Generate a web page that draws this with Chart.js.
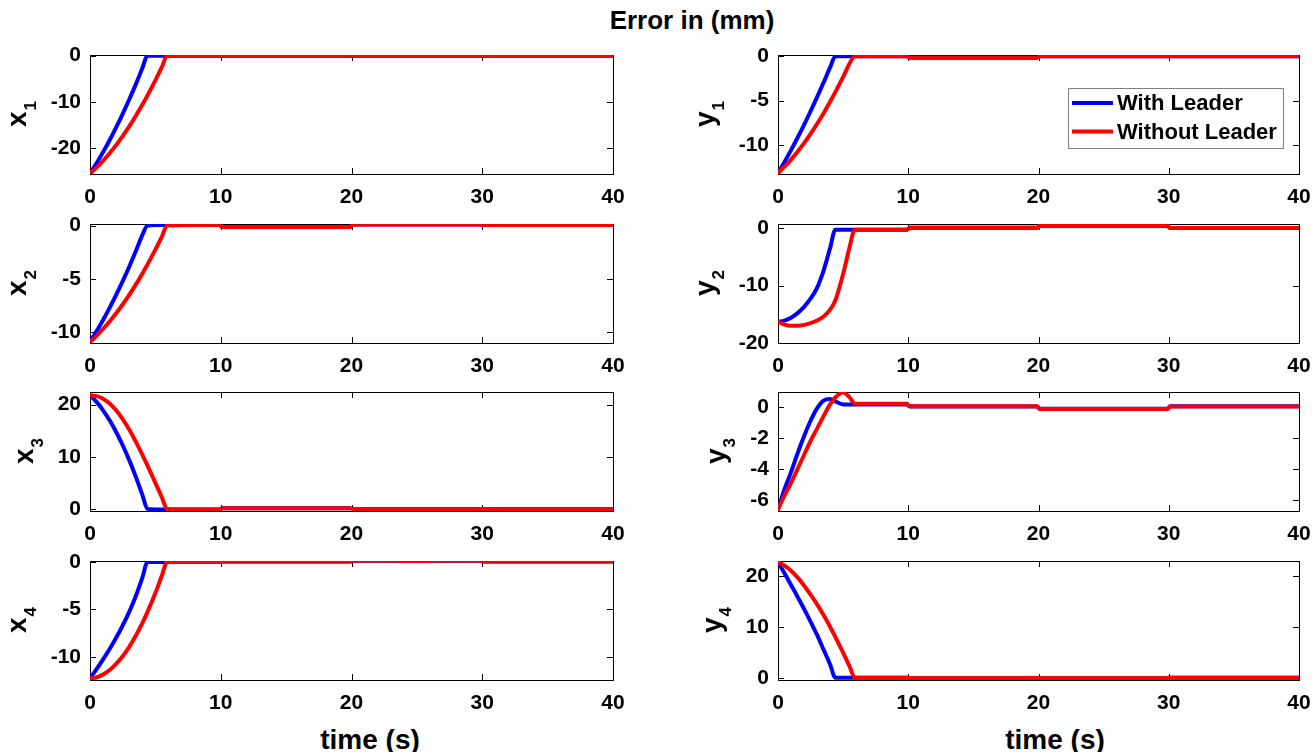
<!DOCTYPE html>
<html>
<head>
<meta charset="utf-8">
<title>Error in (mm)</title>
<script src="https://cdn.jsdelivr.net/npm/chart.js@4.4.1/dist/chart.umd.min.js"></script>
<style>
  html, body { margin: 0; padding: 0; background: #fff; }
  body { width: 1313px; height: 752px; position: relative; overflow: hidden;
         font-family: "Liberation Sans", Arial, sans-serif; }
  .panel { position: absolute; }
  .caption { position: absolute; font-weight: bold; color: #000; white-space: nowrap;
             text-align: center; line-height: 30px; }
</style>
</head>
<body>
<div class="caption" id="title" style="left:0; width:1384px; top:5px; font-size:26px;">Error in (mm)</div>
<div class="caption" style="left:270px; width:200px; top:725px; font-size:28px;">time (s)</div>
<div class="caption" style="left:955px; width:200px; top:725px; font-size:28px;">time (s)</div>

<script>
// sample times (s) shared by every series
const time = [0, 0.5, 1, 1.5, 2, 2.5, 3, 3.5, 4, 4.4, 5, 5.5, 5.9, 8, 9.9, 10.1, 19.9, 20.1, 29.9, 30.1, 40];
const timeTicks = [0, 10, 20, 30, 40];

// x errors (mm)
const x1With    = [-25.6, -23.36, -20.95, -18.36, -15.59, -12.64, -9.52, -6.23, -2.75, 0, 0, 0, 0, 0, 0, -0.05, -0.05, 0, 0, 0, 0];
const x1Without = [-25.6, -24.3, -22.83, -21.2, -19.42, -17.48, -15.37, -13.1, -10.68, -8.63, -5.35, -2.45, 0, 0, 0, -0.05, -0.05, 0, 0, 0, 0];
const x2With    = [-10.9, -9.91, -8.85, -7.71, -6.5, -5.21, -3.85, -2.41, -0.9, 0, 0.05, 0.05, 0.05, 0.05, 0.05, -0.12, -0.12, 0.1, 0.1, 0.05, 0.05];
const x2Without = [-10.9, -10.33, -9.69, -8.99, -8.22, -7.39, -6.49, -5.53, -4.5, -3.63, -2.25, -1.03, 0, 0.05, 0.05, -0.12, -0.12, 0.1, 0.1, 0.05, 0.05];
const x3With    = [21.8, 20.5, 18.89, 16.97, 14.74, 12.2, 9.35, 6.19, 2.72, 0, -0.1, -0.1, -0.1, -0.1, -0.1, 0.15, 0.15, 0, 0, 0, 0];
const x3Without = [21.8, 21.6, 21.1, 20.2, 18.9, 17.2, 15.2, 12.9, 10.4, 8.3, 5.0, 2.2, 0, -0.1, -0.1, 0.15, 0.15, 0, 0, 0, 0];
const x4With    = [-12.3, -11.31, -10.27, -9.18, -7.99, -6.7, -5.26, -3.62, -1.68, 0, 0, 0, 0, 0, 0, 0.05, 0.05, 0.15, 0.15, 0.05, 0.05];
const x4Without = [-12.3, -12.17, -11.87, -11.4, -10.75, -9.94, -8.95, -7.79, -6.46, -5.27, -3.28, -1.43, 0, 0, 0, 0.05, 0.05, 0.15, 0.15, 0.05, 0.05];

// y errors (mm)
const y1With    = [-13.2, -11.93, -10.6, -9.2, -7.74, -6.21, -4.62, -2.96, -1.25, 0, 0, 0, 0, 0, 0, -0.15, -0.15, 0, 0, 0, 0];
const y1Without = [-13.2, -12.47, -11.67, -10.78, -9.81, -8.76, -7.64, -6.43, -5.14, -4.05, -2.33, -0.8, 0, 0, 0, -0.15, -0.15, 0, 0, 0, 0];
const y2With    = [-16.3, -16.1, -15.6, -14.8, -13.7, -12.3, -10.4, -7.4, -3.5, -0.3, -0.3, -0.3, -0.3, -0.3, -0.3, 0.05, 0.05, 0.35, 0.35, 0, 0];
const y2Without = [-16.3, -16.8, -17.0, -17.0, -16.85, -16.55, -16.1, -15.4, -14.2, -12.6, -8.0, -3.3, -0.3, -0.3, -0.3, 0.05, 0.05, 0.4, 0.4, 0, 0];
const y3With    = [-6.6, -5.3, -4.2, -3.0, -1.9, -0.9, -0.1, 0.4, 0.5, 0.35, 0.15, 0.15, 0.15, 0.15, 0.15, 0.02, 0.02, -0.12, -0.12, 0.03, 0.03];
const y3Without = [-6.6, -5.7, -4.9, -4.0, -3.1, -2.2, -1.4, -0.6, 0.15, 0.6, 0.93, 0.6, 0.2, 0.2, 0.2, 0.03, 0.03, -0.15, -0.15, 0.02, 0.02];
const y4With    = [22.7, 20.5, 18.2, 15.9, 13.5, 11.0, 8.4, 5.5, 2.6, 0, 0, 0, 0, 0, 0, -0.05, -0.05, -0.05, -0.05, 0, 0];
const y4Without = [22.7, 22.0, 21.0, 19.7, 18.1, 16.3, 14.4, 12.3, 10.0, 8.0, 4.9, 2.2, 0, 0, 0, -0.05, -0.05, -0.05, -0.05, 0, 0];

// y tick values for each subplot
const x1Ticks = [-20, -10, 0];
const x2Ticks = [-10, -5, 0];
const x3Ticks = [0, 10, 20];
const x4Ticks = [-10, -5, 0];
const y1Ticks = [-10, -5, 0];
const y2Ticks = [-20, -10, 0];
const y3Ticks = [-6, -4, -2, 0];
const y4Ticks = [0, 10, 20];

const seriesNames = ["With Leader", "Without Leader"];
const seriesColors = ["#0000ff", "#ff0000"];

const panels = [
    { name: "x", sub: "1", col: 0, row: 0, lead: x1With, free: x1Without, ticks: x1Ticks, min: -25.7, max: 0.15 },
    { name: "x", sub: "2", col: 0, row: 1, lead: x2With, free: x2Without, ticks: x2Ticks, min: -11.0, max: 0.15 },
    { name: "x", sub: "3", col: 0, row: 2, lead: x3With, free: x3Without, ticks: x3Ticks, min: -0.4, max: 22.4 },
    { name: "x", sub: "4", col: 0, row: 3, lead: x4With, free: x4Without, ticks: x4Ticks, min: -12.45, max: 0.1 },
    { name: "y", sub: "1", col: 1, row: 0, lead: y1With, free: y1Without, ticks: y1Ticks, min: -13.3, max: 0.15, legend: true },
    { name: "y", sub: "2", col: 1, row: 1, lead: y2With, free: y2Without, ticks: y2Ticks, min: -20, max: 0.7 },
    { name: "y", sub: "3", col: 1, row: 2, lead: y3With, free: y3Without, ticks: y3Ticks, min: -6.7, max: 0.95 },
    { name: "y", sub: "4", col: 1, row: 3, lead: y4With, free: y4Without, ticks: y4Ticks, min: -0.45, max: 22.9 }
];

const FONT = '"Liberation Sans", Arial, sans-serif';
const tickFont = { family: FONT, size: 21, weight: "bold" };

// layout of the 4x2 grid
const colLeft = [90, 778];
const colWidth = [523, 521];
const rowTop = [55, 224, 392, 561];
const plotHeight = 119;
const yBand = 90, xBand = 40, padTop = 14, padRight = 16;

// box, inward ticks, rotated axis name and the legend
const panelFrame = {
    id: "panelFrame",
    beforeDatasetsDraw(chart) {
        const { ctx, chartArea: a, scales } = chart;
        const len = 6;
        ctx.save();
        ctx.strokeStyle = "#000";
        ctx.lineWidth = 1;
        ctx.strokeRect(Math.round(a.left) + 0.5, Math.round(a.top) + 0.5,
            Math.round(a.right - a.left), Math.round(a.bottom - a.top));
        ctx.beginPath();
        scales.x.ticks.forEach((t) => {
            const px = Math.round(scales.x.getPixelForValue(t.value)) + 0.5;
            ctx.moveTo(px, a.bottom); ctx.lineTo(px, a.bottom - len);
            ctx.moveTo(px, a.top); ctx.lineTo(px, a.top + len);
        });
        scales.y.ticks.forEach((t) => {
            const py = Math.round(scales.y.getPixelForValue(t.value)) + 0.5;
            ctx.moveTo(a.left, py); ctx.lineTo(a.left + len, py);
            ctx.moveTo(a.right, py); ctx.lineTo(a.right - len, py);
        });
        ctx.stroke();
        ctx.restore();
    },
    afterDraw(chart, args, opts) {
        const { ctx, chartArea: a, scales } = chart;
        ctx.save();
        ctx.fillStyle = "#000";

        // axis name sits left of the widest tick label
        ctx.font = "bold " + tickFont.size + "px " + FONT;
        const widest = Math.max(...scales.y.ticks.map((t) => ctx.measureText(t.label).width));
        const base = a.left - 9 - widest - 25;
        const cy = (a.top + a.bottom) / 2;
        ctx.translate(base, cy);
        ctx.rotate(-Math.PI / 2);
        ctx.textBaseline = "alphabetic";
        ctx.textAlign = "left";
        ctx.font = "bold 28px " + FONT;
        const wm = ctx.measureText(opts.name).width;
        ctx.font = "bold 17px " + FONT;
        const ws = ctx.measureText(opts.sub).width;
        const x0 = -(wm + ws) / 2;
        ctx.font = "bold 28px " + FONT;
        ctx.fillText(opts.name, x0, 0);
        ctx.font = "bold 17px " + FONT;
        ctx.fillText(opts.sub, x0 + wm + 1, 10);
        ctx.restore();

        if (opts.legend) {
            const bw = 215, bh = 60;
            const bx = a.right - 231, by = a.top + 33;
            ctx.save();
            ctx.fillStyle = "#fff";
            ctx.fillRect(bx, by, bw, bh);
            ctx.strokeStyle = "#808080";
            ctx.lineWidth = 1;
            ctx.strokeRect(Math.round(bx) + 0.5, Math.round(by) + 0.5, bw, bh);
            ctx.font = "bold 22px " + FONT;
            ctx.textBaseline = "middle";
            chart.data.datasets.forEach((ds, i) => {
                const ly = by + 15 + i * 28.5;
                ctx.strokeStyle = ds.borderColor;
                ctx.lineWidth = 4;
                ctx.beginPath();
                ctx.moveTo(bx + 4, ly);
                ctx.lineTo(bx + 45, ly);
                ctx.stroke();
                ctx.fillStyle = "#000";
                ctx.fillText(ds.label, bx + 49, ly + 1);
            });
            ctx.restore();
        }
    }
};

// keep the plot box exactly where the grid puts it
function noOverhang(s) {
    s.paddingTop = 0;
    s.paddingBottom = 0;
    s.paddingLeft = 0;
    s.paddingRight = 0;
}

function makeSeries(values, i) {
    return {
        label: seriesNames[i],
        data: time.map((t, k) => ({ x: t, y: values[k] })),
        borderColor: seriesColors[i],
        backgroundColor: seriesColors[i],
        borderWidth: 4,
        borderJoinStyle: "round",
        borderCapStyle: "round",
        pointRadius: 0,
        cubicInterpolationMode: "monotone",
        fill: false,
        order: 1 - i // red is drawn over blue
    };
}

panels.forEach((p) => {
    const canvas = document.createElement("canvas");
    canvas.className = "panel";
    canvas.width = yBand + colWidth[p.col] + padRight;
    canvas.height = padTop + plotHeight + xBand;
    canvas.style.left = (colLeft[p.col] - yBand) + "px";
    canvas.style.top = (rowTop[p.row] - padTop) + "px";
    document.body.appendChild(canvas);

    new Chart(canvas, {
        type: "line",
        data: { datasets: [makeSeries(p.lead, 0), makeSeries(p.free, 1)] },
        options: {
            responsive: false,
            animation: false,
            devicePixelRatio: 1,
            layout: { padding: { top: padTop, right: padRight, left: 0, bottom: 0 } },
            plugins: {
                legend: { display: false },
                tooltip: { enabled: false },
                panelFrame: { name: p.name, sub: p.sub, legend: !!p.legend }
            },
            scales: {
                x: {
                    type: "linear",
                    min: 0,
                    max: 40,
                    afterBuildTicks: (s) => { s.ticks = timeTicks.map((v) => ({ value: v })); },
                    afterFit: (s) => { s.height = xBand; noOverhang(s); },
                    grid: { display: false, drawTicks: false },
                    border: { display: false },
                    ticks: { font: tickFont, color: "#000", padding: 11, maxRotation: 0, autoSkip: false }
                },
                y: {
                    type: "linear",
                    min: p.min,
                    max: p.max,
                    afterBuildTicks: (s) => { s.ticks = p.ticks.map((v) => ({ value: v })); },
                    afterFit: (s) => { s.width = yBand; noOverhang(s); },
                    grid: { display: false, drawTicks: false },
                    border: { display: false },
                    ticks: { font: tickFont, color: "#000", padding: 9, autoSkip: false }
                }
            }
        },
        plugins: [panelFrame]
    });
});
</script>
</body>
</html>
